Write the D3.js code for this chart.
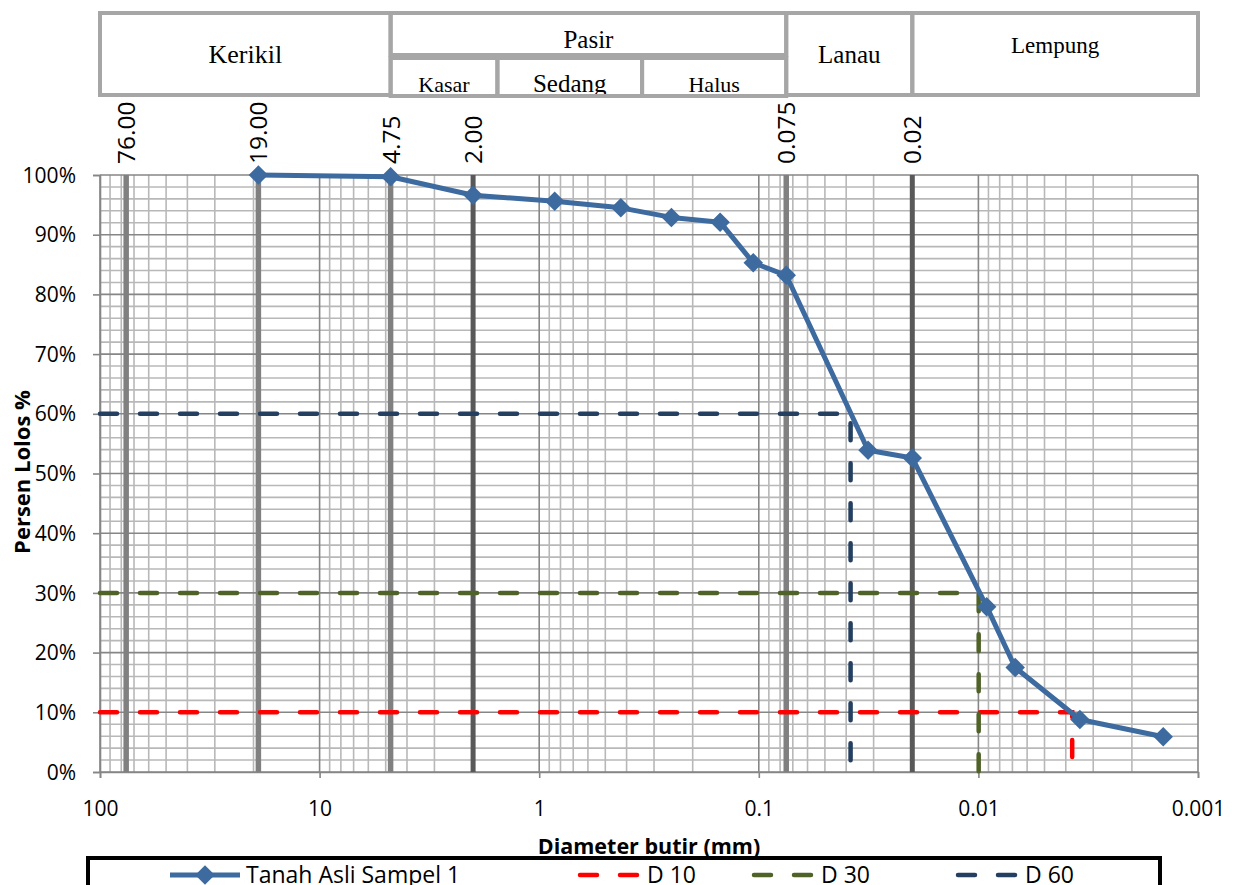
<!DOCTYPE html>
<html>
<head>
<meta charset="utf-8">
<script src="https://cdn.jsdelivr.net/npm/d3@7"></script>
<style>
  html, body { margin: 0; padding: 0; background: #fff; }
  svg { display: block; }
</style>
</head>
<body>
<div id="chart"></div>
<script>
// ---------- data ----------
const diameters = [19, 4.75, 2.00, 0.85, 0.425, 0.25, 0.15, 0.106, 0.075, 0.0318, 0.02, 0.00917, 0.0068, 0.00345, 0.00144];
const passing   = [100, 99.7, 96.6, 95.6, 94.5, 92.9, 92.1, 85.3, 83.2, 53.9, 52.6, 27.7, 17.5, 8.8, 5.9];
const seriesName = "Tanah Asli Sampel 1";

const dNames  = ["D 10", "D 30", "D 60"];
const dLevels = [10, 30, 60];
const dDiams  = [0.00374, 0.00997, 0.0382];

const refDiams  = [76, 19, 4.75, 2.00, 0.075, 0.02];
const refLabels = ["76.00", "19.00", "4.75", "2.00", "0.075", "0.02"];
const refDark   = [false, false, false, true, false, true];

const xTickValues = [100, 10, 1, 0.1, 0.01, 0.001];
const xTickLabels = ["100", "10", "1", "0.1", "0.01", "0.001"];
const yTickValues = [0, 10, 20, 30, 40, 50, 60, 70, 80, 90, 100];

// soil classification header (edges in mm)
const zoneNames = ["Kerikil", "Pasir", "Lanau", "Lempung"];
const zoneEdges = [100, 4.75, 0.075, 0.02, 0.001];
const sandNames = ["Kasar", "Sedang", "Halus"];
const sandEdges = [4.75, 1.55, 0.34, 0.075];

const xTitle = "Diameter butir (mm)";
const yTitle = "Persen Lolos %";

// ---------- layout ----------
const W = 1243, H = 885;
const svg = d3.select("#chart").append("svg").attr("width", W).attr("height", H);

const x = d3.scaleLog().domain([100, 0.001]).range([100, 1198]);
const y = d3.scaleLinear().domain([0, 100]).range([772, 175]);

const FONT = "'Open Sans', sans-serif";
const SERIF = "'Liberation Serif', 'Times New Roman', serif";
const BLUE = "#3D6A9F";
const dColors = ["#FF0000", "#4F6228", "#243F60"];

// ---------- gridlines ----------
const grid = svg.append("g");
const minorX = [];
for (let e = -3; e < 2; e++) for (let k = 2; k <= 9; k++) minorX.push(k * Math.pow(10, e));
grid.selectAll(".mvx").data(minorX).enter().append("line")
  .attr("x1", d => x(d)).attr("x2", d => x(d)).attr("y1", y(0)).attr("y2", y(100))
  .attr("stroke", "#B8B8B8").attr("stroke-width", 1.6);
const minorY = d3.range(0, 101, 2).filter(v => v % 10 !== 0);
grid.selectAll(".mhy").data(minorY).enter().append("line")
  .attr("x1", x(100)).attr("x2", x(0.001)).attr("y1", d => y(d)).attr("y2", d => y(d))
  .attr("stroke", "#B8B8B8").attr("stroke-width", 1.6);
grid.selectAll(".Mvx").data(xTickValues).enter().append("line")
  .attr("x1", d => x(d)).attr("x2", d => x(d)).attr("y1", y(0)).attr("y2", y(100))
  .attr("stroke", "#868686").attr("stroke-width", 1.6);
grid.selectAll(".Mhy").data(yTickValues).enter().append("line")
  .attr("x1", x(100)).attr("x2", x(0.001)).attr("y1", d => y(d)).attr("y2", d => y(d))
  .attr("stroke", "#868686").attr("stroke-width", 1.6);

// ---------- axes ----------
const yAxis = d3.axisLeft(y).tickValues(yTickValues).tickFormat(d => d + "%").tickSize(7).tickPadding(17);
const gy = svg.append("g").attr("transform", `translate(${x(100)},0)`).call(yAxis);
gy.select(".domain").attr("stroke", "#868686").attr("stroke-width", 1.6);
gy.selectAll(".tick line").attr("stroke", "#868686").attr("stroke-width", 1.6);
gy.selectAll(".tick text").attr("font-family", FONT).attr("font-size", 21).attr("fill", "#000")
  .attr("dy", "0.34em");

const xAxis = d3.axisBottom(x).tickValues(xTickValues)
  .tickFormat((d, i) => xTickLabels[i]).tickSize(6).tickPadding(23);
const gx = svg.append("g").attr("transform", `translate(0,${y(0)})`).call(xAxis);
gx.select(".domain").attr("stroke", "#868686").attr("stroke-width", 1.6);
gx.selectAll(".tick line").attr("stroke", "#868686").attr("stroke-width", 1.6);
gx.selectAll(".tick text").attr("font-family", FONT).attr("font-size", 21).attr("fill", "#000");

// ---------- reference (sieve) lines ----------
svg.append("g").selectAll("line").data(refDiams).enter().append("line")
  .attr("x1", d => x(d)).attr("x2", d => x(d)).attr("y1", y(0)).attr("y2", y(100))
  .attr("stroke", (d, i) => refDark[i] ? "#595959" : "#808080")
  .attr("stroke-width", (d, i) => refDark[i] ? 5 : 5.5);

svg.append("g").selectAll("text").data(refDiams).enter().append("text")
  .attr("transform", d => `translate(${x(d) + 9},164) rotate(-90)`)
  .attr("text-anchor", "start")
  .attr("font-family", FONT).attr("font-size", 24.5).attr("fill", "#000")
  .text((d, i) => refLabels[i]);

// ---------- D10 / D30 / D60 dashed guides ----------
const dLine = d3.line().x(p => x(p[0])).y(p => y(p[1]));
svg.append("g").selectAll("path").data(dLevels).enter().append("path")
  .attr("d", (lv, i) => dLine([[100, lv], [dDiams[i], lv], [dDiams[i], 0]]))
  .attr("fill", "none").attr("stroke", (d, i) => dColors[i])
  .attr("stroke-width", 4.5).attr("stroke-dasharray", "17,23").attr("stroke-linecap", "round");

// ---------- main series ----------
const pts = diameters.map((d, i) => [d, passing[i]]);
svg.append("path").attr("d", dLine(pts))
  .attr("fill", "none").attr("stroke", BLUE).attr("stroke-width", 5).attr("stroke-linejoin", "round");
svg.append("g").selectAll("path").data(pts).enter().append("path")
  .attr("d", d3.symbol().type(d3.symbolSquare).size(190))
  .attr("transform", p => `translate(${x(p[0])},${y(p[1])}) rotate(45)`)
  .attr("fill", BLUE);

// ---------- axis titles ----------
svg.append("text").attr("x", (x(100) + x(0.001)) / 2).attr("y", 854)
  .attr("text-anchor", "middle").attr("font-family", FONT).attr("font-weight", "bold")
  .attr("font-size", 21.5).attr("fill", "#000").text(xTitle);
svg.append("text").attr("transform", `translate(30,472) rotate(-90)`)
  .attr("text-anchor", "middle").attr("font-family", FONT).attr("font-weight", "bold")
  .attr("font-size", 22).attr("fill", "#000").text(yTitle);

// ---------- header table ----------
const hdr = svg.append("g");
const topY = 13, midY = 55, botY = 95;
const GRAY = "#A6A6A6";
const defs = svg.append("defs");
function cell(x0, x1, y0, y1, label, size, baseline, id) {
  defs.append("clipPath").attr("id", id).append("rect")
    .attr("x", x0).attr("y", y0).attr("width", x1 - x0).attr("height", y1 - y0);
  hdr.append("text").attr("clip-path", `url(#${id})`)
    .attr("x", (x0 + x1) / 2).attr("y", baseline).attr("text-anchor", "middle")
    .attr("font-family", SERIF).attr("font-size", size).attr("fill", "#000").text(label);
  hdr.append("rect").attr("x", x0).attr("y", y0).attr("width", x1 - x0).attr("height", y1 - y0)
    .attr("fill", "none").attr("stroke", GRAY).attr("stroke-width", 4);
}
const zoneSizes = [26, 25, 25, 23];
const zoneBase = [63, 48, 63, 53];
zoneNames.forEach((n, i) => {
  const x0 = x(zoneEdges[i]), x1 = x(zoneEdges[i + 1]);
  if (n === "Pasir") cell(x0, x1, topY, midY, n, zoneSizes[i], zoneBase[i], "z" + i);
  else cell(x0, x1, topY, botY, n, zoneSizes[i], zoneBase[i], "z" + i);
});
const sandSizes = [22, 25, 22];
sandNames.forEach((n, i) => {
  cell(x(sandEdges[i]), x(sandEdges[i + 1]), midY + 3, botY + 1, n, sandSizes[i], 92, "s" + i);
});

// ---------- legend ----------
const lg = svg.append("g");
lg.append("rect").attr("x", 88).attr("y", 858).attr("width", 1072).attr("height", 40)
  .attr("fill", "#fff").attr("stroke", "#000").attr("stroke-width", 4);
const ly = 875;
lg.append("line").attr("x1", 170).attr("x2", 240).attr("y1", ly).attr("y2", ly)
  .attr("stroke", BLUE).attr("stroke-width", 5);
lg.append("path").attr("transform", `translate(205,${ly}) rotate(45)`)
  .attr("d", d3.symbol().type(d3.symbolSquare).size(190)).attr("fill", BLUE);
lg.append("text").attr("x", 246).attr("y", ly + 8).attr("font-family", FONT).attr("font-size", 23)
  .attr("fill", "#000").text(seriesName);
const legX = [580, 754, 958];
dNames.forEach((n, i) => {
  lg.append("line").attr("x1", legX[i]).attr("x2", legX[i] + 58).attr("y1", ly).attr("y2", ly)
    .attr("stroke", dColors[i]).attr("stroke-width", 4.5)
    .attr("stroke-dasharray", "17,23").attr("stroke-linecap", "round");
  lg.append("text").attr("x", legX[i] + 67).attr("y", ly + 8).attr("font-family", FONT).attr("font-size", 23)
    .attr("fill", "#000").text(n);
});
</script>
</body>
</html>
